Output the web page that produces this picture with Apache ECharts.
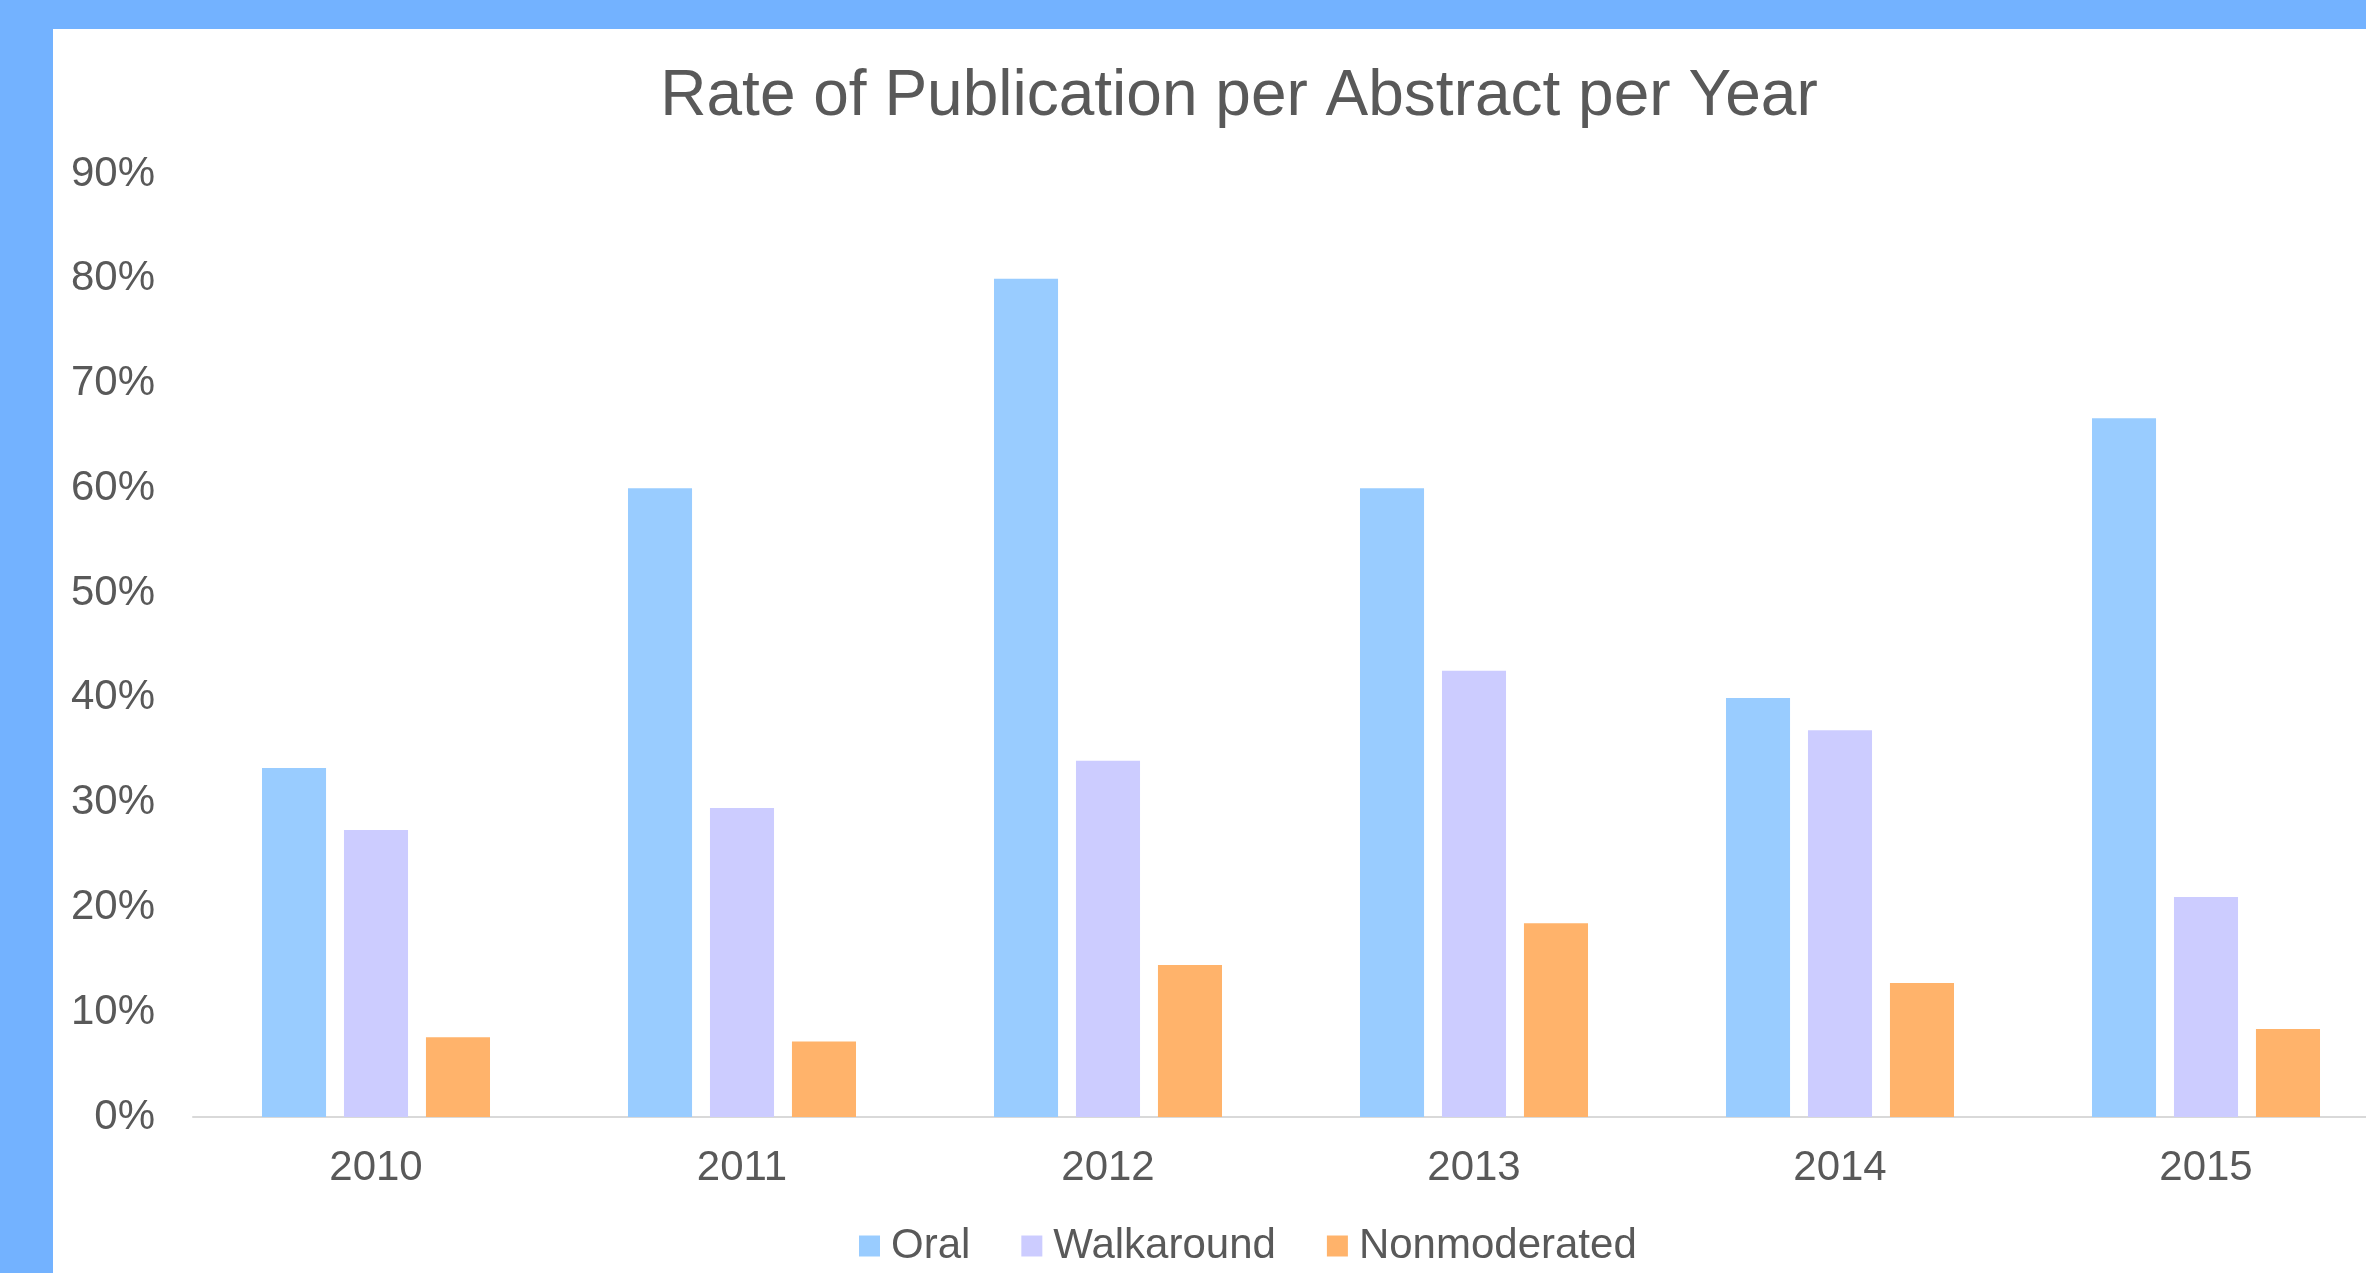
<!DOCTYPE html>
<html>
<head>
<meta charset="utf-8">
<script src="https://cdn.jsdelivr.net/npm/echarts@6/dist/echarts.min.js"></script>
<style>
  html, body { margin: 0; padding: 0; width: 2366px; height: 1273px; overflow: hidden; background: #73B2FF; }
  #chart { position: absolute; left: 53px; top: 29px; width: 2372px; height: 1244px; background: #ffffff; }
</style>
</head>
<body>
<div id="chart"></div>
<script>
const titleText = 'Rate of Publication per Abstract per Year';
const categories = ['2010', '2011', '2012', '2013', '2014', '2015'];
const seriesNames = ['Oral', 'Walkaround', 'Nonmoderated'];
const oral = [33.3, 60, 80, 60, 40, 66.7];
const walkaround = [27.4, 29.5, 34.0, 42.6, 36.9, 21.0];
const nonmoderated = [7.6, 7.2, 14.5, 18.5, 12.8, 8.4];
const colors = ['#99CCFF', '#CCCCFF', '#FFB36B'];

const font = '"Liberation Sans", Arial, sans-serif';
const textColor = '#595959';

const chart = echarts.init(document.getElementById('chart'), null, { renderer: 'canvas' });
const dataSets = [oral, walkaround, nonmoderated];

chart.setOption({
  animation: false,
  color: colors,
  title: {
    text: titleText,
    left: 'center',
    top: 36,
    padding: 0,
    textStyle: { fontFamily: font, fontSize: 64, fontWeight: 'normal', color: textColor }
  },
  legend: {
    data: seriesNames,
    left: 801,
    top: 1191,
    itemWidth: 21,
    itemHeight: 21,
    itemGap: 51,
    icon: 'rect',
    textStyle: { fontFamily: font, fontSize: 42, color: textColor, padding: [0, 0, 0, 6] }
  },
  grid: { left: 140, right: 36, top: 145, bottom: 156, containLabel: false },
  xAxis: {
    type: 'category',
    data: categories,
    axisLine: { show: true, lineStyle: { color: '#D9D9D9', width: 2 } },
    axisTick: { show: false },
    axisLabel: { fontFamily: font, fontSize: 42, color: textColor, margin: 30 },
    splitLine: { show: false }
  },
  yAxis: {
    type: 'value',
    min: 0,
    max: 90,
    interval: 10,
    axisLine: { show: false },
    axisTick: { show: false },
    splitLine: { show: false },
    axisLabel: { fontFamily: font, fontSize: 42, color: textColor, margin: 38, formatter: v => v + '%' }
  },
  series: seriesNames.map((name, i) => ({
    name: name,
    type: 'bar',
    data: dataSets[i],
    barGap: '28%',
    barCategoryGap: '37.7%',
    itemStyle: { color: colors[i] }
  }))
});
</script>
</body>
</html>
